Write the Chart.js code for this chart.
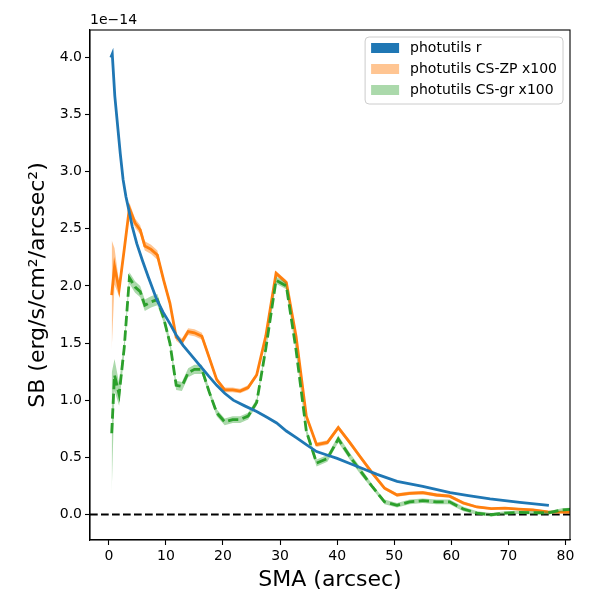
<!DOCTYPE html>
<html>
<head>
<meta charset="utf-8">
<script src="https://cdn.jsdelivr.net/npm/chart.js@4/dist/chart.umd.min.js"></script>
<style>
  html, body { margin: 0; padding: 0; background: #fff; }
  #wrap { width: 600px; height: 600px; }
</style>
</head>
<body>
<div id="wrap"><canvas id="sbChart" width="600" height="600"></canvas></div>
<script>
// photutils r profile (units of 1e-14)
const rSma = [0.35, 0.6, 1.05, 1.6, 2.0, 2.5, 3.0, 3.4, 4.1, 4.9, 5.9, 6.9, 8.4, 9.5, 10.7, 11.8, 13.0, 14.5, 16.0, 17.5,
    18.9, 20.3, 21.8, 23.8, 25.9, 27.7, 29.4, 31.1, 32.9, 34.6, 36.4, 38.2, 40.0, 42.0, 44.0, 47.0, 50.5, 55.0, 59.8, 63.0,
    66.8, 72.0, 77.1]
const rSb = [4.00, 4.03, 3.66, 3.37, 3.16, 2.93, 2.78, 2.69, 2.52, 2.37, 2.22, 2.08, 1.88, 1.77, 1.67, 1.57, 1.48, 1.39, 1.30, 1.21,
    1.13, 1.06, 1.00, 0.95, 0.90, 0.85, 0.80, 0.73, 0.67, 0.61, 0.55, 0.52, 0.49, 0.45, 0.41, 0.35, 0.29, 0.245, 0.19, 0.165,
    0.135, 0.105, 0.08]

// CS profiles (x100)
const csSma = [0.5, 1.0, 1.8, 2.7, 3.6, 4.6, 5.5, 6.3, 7.4, 8.5, 9.6, 10.7, 11.8, 12.8, 13.9, 15.0, 16.3, 17.6, 18.9, 20.3,
    21.7, 23.0, 24.4, 25.9, 27.5, 29.3, 31.1, 32.8, 34.6, 36.4, 38.3, 40.2, 42.2, 44.1, 46.2, 48.3, 50.5, 52.7, 55.0, 57.4,
    59.7, 62.1, 64.5, 67.0, 69.4, 71.8, 74.3, 76.9, 79.4, 81.0]
const zpSb = [1.92, 2.17, 1.97, 2.32, 2.68, 2.55, 2.49, 2.35, 2.32, 2.27, 2.05, 1.85, 1.55, 1.51, 1.60, 1.59, 1.56, 1.37, 1.18, 1.09,
    1.09, 1.08, 1.11, 1.22, 1.56, 2.11, 2.03, 1.56, 0.86, 0.61, 0.63, 0.76, 0.63, 0.50, 0.36, 0.23, 0.17, 0.185, 0.19, 0.17,
    0.16, 0.10, 0.065, 0.05, 0.055, 0.047, 0.04, 0.023, 0.02, 0.02]
const zpErr = [0.48, 0.16, 0.06, 0.05, 0.05, 0.04, 0.04, 0.04, 0.04, 0.04, 0.03, 0.03, 0.03, 0.03, 0.03, 0.03, 0.03, 0.03, 0.02, 0.02,
    0.02, 0.02, 0.02, 0.02, 0.02, 0.02, 0.02, 0.02, 0.02, 0.02, 0.02, 0.02, 0.02, 0.02, 0.02, 0.015, 0.015, 0.015, 0.015, 0.015,
    0.015, 0.015, 0.01, 0.01, 0.01, 0.01, 0.01, 0.01, 0.01, 0.01]
const grSb = [0.71, 1.22, 1.05, 1.46, 2.07, 1.99, 1.95, 1.83, 1.86, 1.88, 1.72, 1.50, 1.13, 1.12, 1.24, 1.27, 1.27, 1.07, 0.89, 0.81,
    0.83, 0.83, 0.86, 0.98, 1.45, 2.05, 2.00, 1.44, 0.73, 0.45, 0.49, 0.66, 0.51, 0.38, 0.24, 0.11, 0.08, 0.11, 0.12, 0.11,
    0.11, 0.047, 0.012, -0.003, 0.012, 0.018, 0.015, 0.012, 0.04, 0.045]
const grErr = [0.53, 0.14, 0.10, 0.06, 0.05, 0.05, 0.05, 0.05, 0.05, 0.05, 0.04, 0.04, 0.04, 0.04, 0.04, 0.04, 0.04, 0.03, 0.03, 0.03,
    0.03, 0.03, 0.03, 0.03, 0.03, 0.03, 0.03, 0.03, 0.03, 0.03, 0.03, 0.03, 0.03, 0.03, 0.02, 0.02, 0.02, 0.02, 0.02, 0.02,
    0.02, 0.02, 0.015, 0.015, 0.015, 0.015, 0.015, 0.015, 0.015, 0.015]

const legendLabels = ['photutils r', 'photutils CS-ZP x100', 'photutils CS-gr x100']
const xTicks = [0, 10, 20, 30, 40, 50, 60, 70, 80]
const yTicks = [0.0, 0.5, 1.0, 1.5, 2.0, 2.5, 3.0, 3.5, 4.0]
const xMin = -3.3, xMax = 80.8
const yMin = -0.224, yMax = 4.24

const BLUE = '#1f77b4'
const ORANGE = '#ff7f0e'
const GREEN = '#2ca02c'
const FONT = 'DejaVu Sans'

function pts(xs, ys) {
    return xs.map((x, i) => ({x: x, y: ys[i]}))
}
function band(xs, ys, err, sign) {
    return xs.map((x, i) => ({x: x, y: ys[i] + sign * err[i]}))
}

const legendColors = [BLUE, 'rgba(255,127,14,0.45)', 'rgba(44,160,44,0.4)']

// frame, offset text and the boxed legend
const extras = {
    id: 'extras',
    afterDraw(chart) {
        const ctx = chart.ctx
        const a = chart.chartArea
        ctx.save()
        ctx.strokeStyle = '#000'
        ctx.lineWidth = 1.1
        ctx.strokeRect(a.left, a.top, a.right - a.left, a.bottom - a.top)

        ctx.fillStyle = '#000'
        ctx.font = '14px "' + FONT + '"'
        ctx.textAlign = 'left'
        ctx.textBaseline = 'alphabetic'
        ctx.fillText('1e\u221214', a.left, a.top - 6)

        // legend
        let tw = 0
        legendLabels.forEach(l => { tw = Math.max(tw, ctx.measureText(l).width) })
        const rowH = 21
        const w = 6 + 28 + 11 + tw + 6
        const h = legendLabels.length * rowH + 4
        const x0 = a.right - 7 - w
        const y0 = a.top + 7
        ctx.beginPath()
        ctx.roundRect(x0, y0, w, h, 4)
        ctx.fillStyle = 'rgba(255,255,255,0.8)'
        ctx.fill()
        ctx.strokeStyle = '#cccccc'
        ctx.lineWidth = 1
        ctx.stroke()
        legendLabels.forEach((l, i) => {
            const cy = y0 + 11 + i * rowH
            ctx.fillStyle = legendColors[i]
            ctx.fillRect(x0 + 6, cy - 5, 28, 10)
            ctx.fillStyle = '#000'
            ctx.textBaseline = 'middle'
            ctx.fillText(l, x0 + 6 + 28 + 11, cy)
        })
        ctx.restore()
    }
}

new Chart('sbChart', {
    type: 'line',
    data: {
        datasets: [
            {
                label: legendLabels[0],
                data: pts(rSma, rSb),
                borderColor: BLUE,
                borderWidth: 2.8,
                pointRadius: 0,
                fill: false,
                order: 0,
            },
            {
                label: 'gr lo',
                data: band(csSma, grSb, grErr, -1),
                borderWidth: 0,
                pointRadius: 0,
                fill: false,
                order: 3,
            },
            {
                label: 'gr hi',
                data: band(csSma, grSb, grErr, 1),
                borderWidth: 0,
                pointRadius: 0,
                backgroundColor: 'rgba(44,160,44,0.4)',
                fill: '-1',
                order: 2,
            },
            {
                label: legendLabels[2],
                data: pts(csSma, grSb),
                borderColor: GREEN,
                borderWidth: 2.8,
                borderDash: [10.3, 4.4],
                pointRadius: 0,
                fill: false,
                order: 1,
            },
            {
                label: 'zp lo',
                data: band(csSma, zpSb, zpErr, -1),
                borderWidth: 0,
                pointRadius: 0,
                fill: false,
                order: 6,
            },
            {
                label: 'zp hi',
                data: band(csSma, zpSb, zpErr, 1),
                borderWidth: 0,
                pointRadius: 0,
                backgroundColor: 'rgba(255,127,14,0.45)',
                fill: '-1',
                order: 5,
            },
            {
                label: legendLabels[1],
                data: pts(csSma, zpSb),
                borderColor: ORANGE,
                borderWidth: 2.8,
                pointRadius: 0,
                fill: false,
                order: 4,
            },
            {
                label: 'zero',
                data: [{x: xMin, y: 0}, {x: xMax, y: 0}],
                borderColor: '#000',
                borderWidth: 2,
                borderDash: [7.7, 3.3],
                pointRadius: 0,
                fill: false,
                order: 7,
            },
        ]
    },
    options: {
        responsive: false,
        animation: false,
        devicePixelRatio: 1,
        layout: {
            padding: {top: 30, right: 30, left: 0, bottom: 0}
        },
        plugins: {
            legend: {display: false},
            tooltip: {enabled: false},
        },
        scales: {
            x: {
                type: 'linear',
                min: xMin,
                max: xMax,
                afterBuildTicks: (axis) => { axis.ticks = xTicks.map(v => ({value: v})) },
                afterFit: (axis) => { axis.height = 60 },
                grid: {drawOnChartArea: false, drawTicks: true, tickLength: 5, color: '#000', tickWidth: 1.1},
                border: {display: true, color: '#000', width: 1.1},
                ticks: {
                    color: '#000',
                    font: {family: FONT, size: 14},
                    padding: 3,
                    maxRotation: 0,
                    callback: (v) => String(v),
                },
                title: {
                    display: true,
                    text: 'SMA (arcsec)',
                    color: '#000',
                    font: {family: FONT, size: 22},
                    padding: {top: 0, bottom: 7},
                },
            },
            y: {
                type: 'linear',
                min: yMin,
                max: yMax,
                afterBuildTicks: (axis) => { axis.ticks = yTicks.map(v => ({value: v})) },
                afterFit: (axis) => { axis.width = 90 },
                grid: {drawOnChartArea: false, drawTicks: true, tickLength: 5, color: '#000', tickWidth: 1.1},
                border: {display: true, color: '#000', width: 1.1},
                ticks: {
                    color: '#000',
                    font: {family: FONT, size: 14},
                    padding: 3,
                    callback: (v) => Number(v).toFixed(1),
                },
                title: {
                    display: true,
                    text: 'SB (erg/s/cm\u00b2/arcsec\u00b2)',
                    color: '#000',
                    font: {family: FONT, size: 22},
                    padding: {top: 25, bottom: 0},
                },
            },
        },
    },
    plugins: [extras],
})
</script>
</body>
</html>
